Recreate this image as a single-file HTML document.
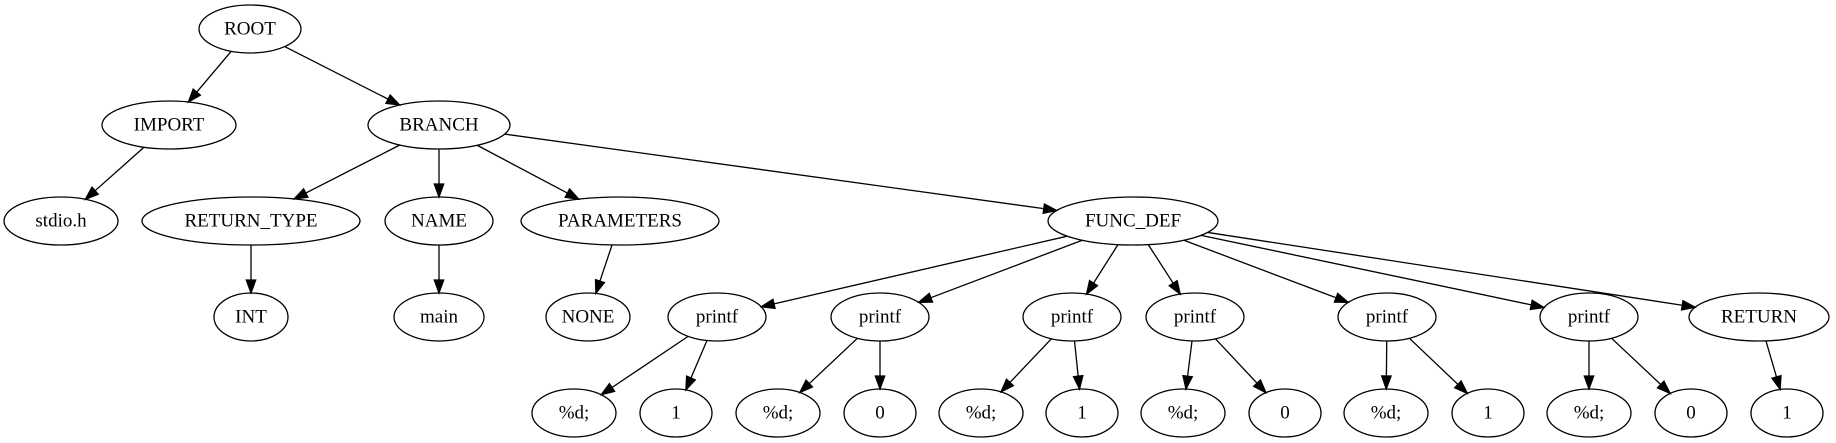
<!DOCTYPE html>
<html><head><meta charset="utf-8"><style>
html,body{margin:0;padding:0;background:#fff;}
svg{display:block;}
text{font-family:"Liberation Serif",serif;font-size:19px;fill:#000;text-anchor:middle;dominant-baseline:central;}
</style></head><body>
<svg id="s" width="1836" height="443" viewBox="0 0 1836 443" xmlns="http://www.w3.org/2000/svg"></svg>
<script>
const Y=[29,125,221,317,413];
const N={
root:[250,0,51,'ROOT'],imp:[169,1,67,'IMPORT'],br:[439,1,71,'BRANCH'],
std:[61,2,57,'stdio.h'],rt:[251,2,109,'RETURN_TYPE'],nm:[439,2,54,'NAME'],pa:[620,2,99,'PARAMETERS'],fd:[1133,2,85,'FUNC_DEF'],
int:[251,3,37,'INT'],main:[439,3,45,'main'],none:[588,3,42,'NONE'],
p1:[717,3,49,'printf'],p2:[880,3,49,'printf'],p3:[1072,3,49,'printf'],p4:[1195,3,49,'printf'],p5:[1387,3,49,'printf'],p6:[1589,3,49,'printf'],ret:[1759,3,70,'RETURN'],
a1:[574,4,42,'%d;'],b1:[676,4,36,'1'],a2:[778,4,42,'%d;'],b2:[880,4,36,'0'],a3:[981,4,42,'%d;'],b3:[1082,4,36,'1'],
a4:[1183,4,42,'%d;'],b4:[1285,4,36,'0'],a5:[1386,4,42,'%d;'],b5:[1488,4,36,'1'],a6:[1589,4,42,'%d;'],b6:[1691,4,36,'0'],r1:[1787,4,36,'1']};
const E=[['root','imp'],['root','br'],['imp','std'],['br','rt'],['br','nm'],['br','pa'],['br','fd'],['rt','int'],['nm','main'],['pa','none'],
['fd','p1'],['fd','p2'],['fd','p3'],['fd','p4'],['fd','p5'],['fd','p6'],['fd','ret'],
['p1','a1'],['p1','b1'],['p2','a2'],['p2','b2'],['p3','a3'],['p3','b3'],['p4','a4'],['p4','b4'],['p5','a5'],['p5','b5'],['p6','a6'],['p6','b6'],['ret','r1']];
const RY=24;
let h='';
function bnd(n,dx,dy){const rx=n[2];const t=1/Math.sqrt((dx*dx)/(rx*rx)+(dy*dy)/(RY*RY));return t;}
for(const [a,b] of E){
 const A=N[a],B=N[b];const ax=A[0],ay=Y[A[1]],bx=B[0],by=Y[B[1]];
 const dx=bx-ax,dy=by-ay,L=Math.hypot(dx,dy),ux=dx/L,uy=dy/L;
 const t1=bnd(A,ux,uy),t2=bnd(B,ux,uy);
 const sx=ax+ux*t1,sy=ay+uy*t1,ex=bx-ux*t2,ey=by-uy*t2;
 const al=13,aw=4.7;const qx=ex-ux*al,qy=ey-uy*al;
 h+=`<line x1="${sx}" y1="${sy}" x2="${qx}" y2="${qy}" stroke="#000" stroke-width="1.3"/>`;
 h+=`<polygon points="${ex},${ey} ${qx-uy*aw},${qy+ux*aw} ${qx+uy*aw},${qy-ux*aw}" fill="#000" stroke="#000" stroke-width="1.3"/>`;
}
for(const k in N){const n=N[k];h+=`<ellipse cx="${n[0]}" cy="${Y[n[1]]}" rx="${n[2]}" ry="${RY}" fill="none" stroke="#000" stroke-width="1.3"/><text x="${n[0]}" y="${Y[n[1]]}">${n[3]}</text>`;}
document.getElementById('s').innerHTML=h;
</script>
</body></html>
